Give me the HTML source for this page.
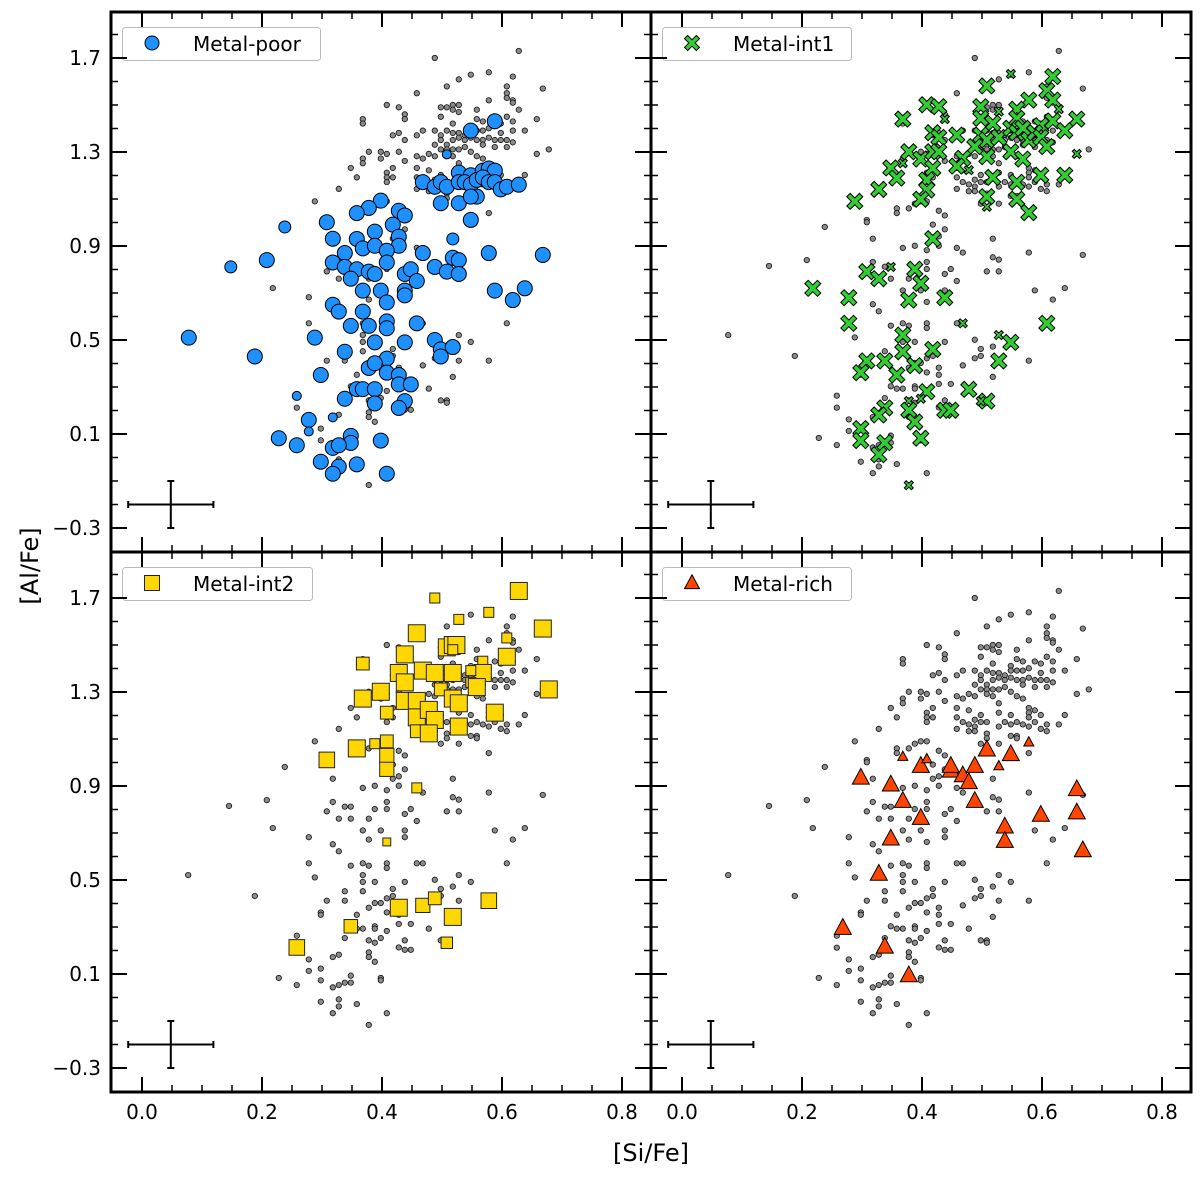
<!DOCTYPE html>
<html><head><meta charset="utf-8"><style>
html,body{margin:0;padding:0;background:#fff;}
svg{display:block;font-family:"DejaVu Sans","Liberation Sans",sans-serif;}
</style></head><body>
<svg id="chart" width="1200" height="1180" viewBox="0 0 1200 1180" xmlns="http://www.w3.org/2000/svg">
<rect x="0" y="0" width="1200" height="1180" fill="#fff"/>
<g id="marks"></g>
<g id="frames"></g>
<text x="0" y="0" transform="translate(38,566) rotate(-90)" text-anchor="middle" font-size="24">[Al/Fe]</text>
<text x="651" y="1161" text-anchor="middle" font-size="24">[Si/Fe]</text>
</svg>
<script>
// background sample (all stars) [SiFe, AlFe]
const greyPts=[[.628,1.730],[.488,1.700],[.548,1.629],[.578,1.639],[.618,1.621],[.528,1.609],[.508,1.579],[.608,1.579],[.668,1.570],[.458,1.550],[.608,1.550],[.608,1.530],[.618,1.520],[.578,1.520],[.618,1.510],[.408,1.500],[.428,1.490],[.498,1.490],[.508,1.490],[.518,1.500],[.528,1.500],[.518,1.480],[.528,1.470],[.558,1.480],[.628,1.480],[.438,1.460],[.438,1.440],[.498,1.450],[.518,1.421],[.558,1.440],[.568,1.430],[.588,1.430],[.608,1.450],[.618,1.430],[.658,1.440],[.368,1.440],[.368,1.421],[.488,1.391],[.498,1.371],[.508,1.391],[.518,1.381],[.528,1.381],[.538,1.371],[.548,1.411],[.548,1.391],[.558,1.391],[.568,1.391],[.578,1.401],[.598,1.421],[.598,1.381],[.618,1.391],[.638,1.391],[.428,1.381],[.418,1.371],[.458,1.371],[.468,1.391],[.438,1.351],[.488,1.331],[.498,1.351],[.508,1.331],[.518,1.351],[.528,1.361],[.538,1.351],[.548,1.361],[.558,1.351],[.568,1.351],[.578,1.361],[.588,1.351],[.598,1.351],[.608,1.351],[.618,1.341],[.568,1.331],[.588,1.321],[.608,1.321],[.498,1.311],[.508,1.311],[.518,1.311],[.528,1.311],[.538,1.321],[.548,1.301],[.378,1.301],[.398,1.301],[.408,1.292],[.428,1.301],[.438,1.262],[.368,1.272],[.368,1.252],[.398,1.272],[.458,1.282],[.468,1.272],[.478,1.292],[.488,1.282],[.508,1.292],[.518,1.282],[.558,1.282],[.568,1.272],[.658,1.292],[.678,1.311],[.348,1.232],[.358,1.192],[.418,1.232],[.408,1.212],[.408,1.192],[.408,1.172],[.418,1.192],[.458,1.232],[.458,1.192],[.478,1.222],[.498,1.202],[.528,1.212],[.528,1.252],[.548,1.202],[.578,1.232],[.578,1.212],[.588,1.222],[.598,1.202],[.578,1.192],[.638,1.202],[.468,1.172],[.478,1.162],[.488,1.182],[.488,1.153],[.498,1.172],[.508,1.172],[.528,1.153],[.538,1.172],[.548,1.162],[.558,1.172],[.568,1.162],[.578,1.153],[.588,1.172],[.608,1.162],[.598,1.143],[.608,1.133],[.628,1.162],[.458,1.143],[.478,1.133],[.488,1.133],[.508,1.123],[.508,1.103],[.328,1.143],[.288,1.090],[.388,1.080],[.398,1.090],[.408,1.090],[.378,1.060],[.358,1.060],[.358,1.040],[.308,1.011],[.308,1.001],[.428,1.050],[.438,1.030],[.498,1.080],[.528,1.080],[.548,1.113],[.558,1.113],[.558,1.103],[.578,1.040],[.238,0.981],[.318,0.931],[.418,0.991],[.428,0.941],[.418,0.931],[.438,0.971],[.388,0.901],[.408,0.882],[.428,0.901],[.458,0.892],[.468,0.872],[.518,0.931],[.518,0.852],[.528,0.842],[.208,0.840],[.218,0.721],[.318,0.832],[.308,0.792],[.338,0.812],[.348,0.812],[.328,0.761],[.348,0.761],[.368,0.892],[.378,0.761],[.388,0.802],[.408,0.832],[.408,0.802],[.438,0.781],[.448,0.802],[.458,0.751],[.508,0.792],[.528,0.792],[.578,0.872],[.668,0.862],[.278,0.682],[.318,0.652],[.328,0.622],[.368,0.711],[.378,0.672],[.398,0.711],[.408,0.662],[.438,0.711],[.438,0.682],[.588,0.711],[.618,0.672],[.638,0.721],[.278,0.571],[.288,0.511],[.348,0.561],[.368,0.571],[.378,0.561],[.408,0.571],[.408,0.551],[.458,0.571],[.468,0.571],[.368,0.521],[.368,0.492],[.388,0.492],[.438,0.492],[.488,0.501],[.498,0.462],[.518,0.472],[.528,0.521],[.548,0.492],[.608,0.571],[.188,0.432],[.308,0.412],[.338,0.452],[.338,0.412],[.368,0.452],[.378,0.382],[.388,0.402],[.398,0.402],[.408,0.422],[.418,0.432],[.418,0.462],[.468,0.392],[.488,0.422],[.498,0.432],[.528,0.412],[.578,0.412],[.298,0.362],[.298,0.352],[.358,0.352],[.408,0.362],[.428,0.382],[.428,0.352],[.518,0.343],[.348,0.303],[.358,0.293],[.368,0.293],[.388,0.303],[.388,0.293],[.408,0.283],[.428,0.313],[.448,0.313],[.478,0.293],[.258,0.263],[.258,0.212],[.338,0.253],[.378,0.243],[.388,0.233],[.398,0.253],[.438,0.243],[.428,0.213],[.438,0.203],[.448,0.203],[.498,0.243],[.508,0.243],[.508,0.233],[.278,0.162],[.278,0.113],[.318,0.172],[.328,0.182],[.378,0.192],[.378,0.172],[.388,0.152],[.228,0.083],[.258,0.053],[.298,0.123],[.298,0.073],[.318,0.043],[.328,0.053],[.338,0.063],[.348,0.063],[.348,0.093],[.398,0.083],[.398,0.073],[.298,-0.018],[.328,-0.008],[.328,-0.038],[.358,-0.028],[.318,-0.067],[.408,-0.067],[.378,-0.117],[.077,0.521],[.145,0.815]];
// Metal-poor [SiFe, AlFe, sizeClass]
const poorPts=[[.588,1.431,2],[.548,1.391,2],[.508,1.290,1],[.528,1.212,2],[.548,1.201,2],[.568,1.221,2],[.578,1.230,2],[.588,1.221,2],[.468,1.172,2],[.488,1.152,2],[.498,1.172,2],[.508,1.152,2],[.528,1.172,2],[.538,1.172,2],[.548,1.161,2],[.558,1.181,2],[.568,1.192,2],[.578,1.172,2],[.588,1.172,2],[.598,1.141,2],[.608,1.152,2],[.628,1.161,2],[.498,1.082,2],[.528,1.082,2],[.558,1.110,2],[.548,1.110,2],[.548,1.011,2],[.398,1.093,2],[.378,1.062,2],[.358,1.040,2],[.428,1.050,2],[.438,1.030,2],[.308,1.001,2],[.238,0.981,1.5],[.418,0.991,2],[.388,0.961,2],[.428,0.940,2],[.428,0.901,2],[.358,0.930,2],[.318,0.931,2],[.368,0.890,2],[.388,0.901,2],[.408,0.880,2],[.338,0.870,2],[.408,0.830,2],[.318,0.830,2],[.338,0.811,2],[.358,0.801,2],[.378,0.791,2],[.388,0.781,2],[.348,0.761,2],[.438,0.781,2],[.448,0.801,2],[.458,0.751,2],[.468,0.870,2],[.488,0.811,2],[.508,0.791,2],[.518,0.850,2],[.528,0.840,2],[.528,0.781,2],[.518,0.930,1.5],[.578,0.870,2],[.668,0.862,2],[.208,0.840,2],[.148,0.811,1.5],[.368,0.710,2],[.398,0.710,2],[.408,0.660,2],[.438,0.710,2],[.438,0.690,2],[.588,0.710,2],[.618,0.670,2],[.638,0.720,2],[.318,0.650,2],[.328,0.621,2],[.368,0.621,2],[.348,0.560,2],[.378,0.560,2],[.408,0.579,2],[.408,0.550,2],[.458,0.571,2],[.078,0.510,2],[.288,0.510,2],[.388,0.490,2],[.438,0.490,2],[.488,0.500,2],[.498,0.460,2],[.518,0.470,2],[.498,0.430,2],[.188,0.430,2],[.338,0.450,2],[.408,0.421,2],[.378,0.381,2],[.388,0.401,2],[.408,0.361,2],[.428,0.351,2],[.428,0.311,2],[.448,0.311,2],[.298,0.351,2],[.358,0.291,2],[.368,0.291,2],[.388,0.291,2],[.338,0.250,2],[.388,0.230,2],[.438,0.240,2],[.428,0.211,2],[.258,0.262,1],[.318,0.171,1],[.278,0.160,2],[.278,0.111,1],[.228,0.082,2],[.258,0.052,2],[.348,0.092,2],[.348,0.062,2],[.398,0.072,2],[.318,0.041,2],[.328,0.052,2],[.298,-0.018,2],[.328,-0.039,2],[.358,-0.029,2],[.318,-0.069,2],[.408,-0.069,2]];
// Metal-int1
const int1Pts=[[.548,1.632,1],[.618,1.621,2],[.508,1.581,2],[.608,1.561,2],[.618,1.521,2],[.578,1.521,2],[.628,1.482,1],[.408,1.501,2],[.428,1.493,2],[.498,1.493,2],[.498,1.443,2],[.518,1.422,2],[.528,1.472,1],[.558,1.482,2],[.558,1.443,2],[.368,1.440,2],[.438,1.440,1],[.658,1.440,2],[.618,1.432,2],[.598,1.412,2],[.638,1.391,2],[.418,1.382,2],[.428,1.362,2],[.458,1.372,2],[.498,1.372,2],[.508,1.351,2],[.528,1.362,2],[.548,1.401,2],[.558,1.382,2],[.568,1.401,2],[.578,1.351,2],[.588,1.382,2],[.598,1.362,2],[.608,1.323,2],[.548,1.301,2],[.508,1.280,2],[.488,1.323,2],[.468,1.273,2],[.458,1.240,2],[.378,1.301,2],[.398,1.270,2],[.418,1.301,2],[.428,1.301,2],[.658,1.292,1],[.568,1.270,2],[.348,1.232,2],[.368,1.252,1],[.358,1.189,2],[.418,1.231,2],[.408,1.181,2],[.408,1.138,2],[.398,1.099,2],[.328,1.141,2],[.288,1.090,2],[.478,1.223,1],[.518,1.192,2],[.558,1.171,2],[.598,1.201,2],[.638,1.201,2],[.508,1.110,2],[.508,1.067,1],[.558,1.099,2],[.578,1.042,2],[.418,0.931,2],[.218,0.720,2],[.278,0.680,2],[.278,0.571,2],[.308,0.791,2],[.328,0.761,2],[.348,0.811,1],[.388,0.801,2],[.398,0.741,2],[.378,0.670,2],[.438,0.680,2],[.468,0.571,1],[.528,0.521,1],[.548,0.490,2],[.608,0.571,2],[.368,0.521,2],[.368,0.450,2],[.418,0.460,2],[.308,0.411,2],[.298,0.361,2],[.338,0.411,2],[.358,0.351,2],[.388,0.391,2],[.528,0.411,2],[.478,0.290,2],[.408,0.280,2],[.398,0.250,1],[.378,0.240,1],[.508,0.240,2],[.498,0.240,1],[.338,0.211,2],[.328,0.181,2],[.378,0.201,2],[.388,0.151,2],[.438,0.201,2],[.448,0.201,2],[.298,0.123,2],[.298,0.072,2],[.338,0.063,2],[.398,0.082,2],[.328,0.012,2],[.378,-0.118,1]];
// Metal-int2
const int2Pts=[[.628,1.730,2],[.488,1.700,1],[.578,1.639,1],[.528,1.609,1],[.668,1.570,2],[.458,1.550,2],[.608,1.530,1],[.508,1.490,2],[.518,1.500,2],[.524,1.500,2],[.518,1.480,1],[.438,1.460,2],[.608,1.450,2],[.368,1.421,1.4],[.568,1.431,1],[.428,1.381,2],[.468,1.391,2],[.488,1.381,2],[.518,1.381,2],[.568,1.381,2],[.548,1.391,1],[.548,1.341,1],[.438,1.341,2],[.398,1.301,2],[.368,1.272,2],[.498,1.311,1.4],[.558,1.321,2],[.678,1.311,2],[.438,1.262,2],[.458,1.262,2],[.518,1.272,2],[.528,1.252,2],[.408,1.212,1.4],[.458,1.192,2],[.478,1.224,2],[.488,1.181,2],[.588,1.212,2],[.528,1.153,2],[.458,1.133,1.4],[.478,1.124,2],[.358,1.060,2],[.388,1.080,1],[.408,1.090,1.4],[.408,1.030,1.6],[.308,1.011,1.8],[.408,0.971,1.6],[.458,0.892,1],[.408,0.662,0.7],[.428,0.382,2],[.468,0.392,1.6],[.488,0.422,1.4],[.578,0.412,1.8],[.518,0.343,2],[.348,0.303,1.5],[.258,0.213,1.8],[.508,0.233,1.2]];
// Metal-rich
const richPts=[[.298,0.935,2],[.348,0.906,2],[.368,0.836,2],[.398,0.764,2],[.348,0.676,2],[.328,0.526,2],[.268,0.296,2],[.338,0.216,2],[.378,0.094,2],[.398,0.985,2],[.448,0.965,2],[.448,0.985,2],[.468,0.945,2],[.478,0.916,2],[.488,0.985,2],[.488,0.836,2],[.508,1.055,2],[.548,1.035,2],[.578,1.086,1],[.528,0.985,1],[.368,1.025,1],[.408,1.015,1],[.538,0.727,2],[.538,0.666,2],[.598,0.777,2],[.658,0.886,2],[.658,0.787,2],[.668,0.626,2]];
const xTickLabels=["0.0","0.2","0.4","0.6","0.8"];
const xTickValues=[0,0.2,0.4,0.6,0.8];
const yTickLabels=["1.7","1.3","0.9","0.5","0.1","\u22120.3"];
const yTickValues=[1.7,1.3,0.9,0.5,0.1,-0.3];
const legendLabels=["Metal-poor","Metal-int1","Metal-int2","Metal-rich"];
const errorBar=[0.048,-0.2,0.071,0.1];

const NS="http://www.w3.org/2000/svg";
const marks=document.getElementById('marks');
const frames=document.getElementById('frames');
function sx(c,x){return 142+c*540+x*600;}
function sy(r,y){return 58+r*540+(1.7-y)*235;}
function mk(tag,attrs,parent){const e=document.createElementNS(NS,tag);for(const k in attrs)e.setAttribute(k,attrs[k]);(parent||marks).appendChild(e);return e;}

const panels=[{c:0,r:0,pts:poorPts,kind:'circle',fill:'#1e90ff'},{c:1,r:0,pts:int1Pts,kind:'x',fill:'#32cd32'},{c:0,r:1,pts:int2Pts,kind:'square',fill:'#ffd700'},{c:1,r:1,pts:richPts,kind:'tri',fill:'#ff4500'}];

function drawMarker(kind,cx,cy,s,fill,g){
  let e;
  if(kind==='circle'){e=mk('circle',{cx:cx,cy:cy,r:s,fill:fill,stroke:'#000','stroke-width':1},g);}
  else if(kind==='square'){e=mk('rect',{x:cx-s,y:cy-s,width:2*s,height:2*s,fill:fill,stroke:'#222','stroke-width':1},g);}
  else if(kind==='tri'){e=mk('polygon',{points:(cx)+','+(cy-s*1.1)+' '+(cx+s)+','+(cy+s*0.75)+' '+(cx-s)+','+(cy+s*0.75),fill:fill,stroke:'#000','stroke-width':1},g);}
  else {const a=s,w=s*0.42;
    const p=[[-a,-a+w],[-a+w,-a],[0,-w],[a-w,-a],[a,-a+w],[w,0],[a,a-w],[a-w,a],[0,w],[-a+w,a],[-a,a-w],[-w,0]];
    e=mk('polygon',{points:p.map(q=>(cx+q[0])+','+(cy+q[1])).join(' '),fill:fill,stroke:'#000','stroke-width':1},g);}
  return e;
}
const sizeMap={circle:[0,4.5,7.5],x:[0,4.5,8],square:[0,5,8.5],tri:[0,5,8.5]};

panels.forEach((p,pi)=>{
  const g=mk('g',{});
  
  
  greyPts.forEach(d=>{
    const c=mk('circle',{cx:sx(p.c,d[0]),cy:sy(p.r,d[1]),r:2.7,fill:'#8a8a8a',stroke:'#111','stroke-width':0.8},g);
    
    
  });
  const sm=sizeMap[p.kind];
  p.pts.forEach(d=>{
    const s=d[2]>=2?sm[2]:sm[1]+(sm[2]-sm[1])*(d[2]-1);
    const e=drawMarker(p.kind,sx(p.c,d[0]),sy(p.r,d[1]),Math.max(2.5,s),p.fill,g);
    
    
  });
  // error bar
  const eg=mk('g',{stroke:'#000','stroke-width':2},g);
  
  
  const ex0=sx(p.c,errorBar[0]-errorBar[2]),ex1=sx(p.c,errorBar[0]+errorBar[2]),ecy=sy(p.r,errorBar[1]);
  const ecx=sx(p.c,errorBar[0]),ey0=sy(p.r,errorBar[1]+errorBar[3]),ey1=sy(p.r,errorBar[1]-errorBar[3]);
  mk('line',{x1:ex0,y1:ecy,x2:ex1,y2:ecy},eg);mk('line',{x1:ecx,y1:ey0,x2:ecx,y2:ey1},eg);
  mk('line',{x1:ex0,y1:ecy-3.5,x2:ex0,y2:ecy+3.5},eg);mk('line',{x1:ex1,y1:ecy-3.5,x2:ex1,y2:ecy+3.5},eg);
  mk('line',{x1:ecx-3.5,y1:ey0,x2:ecx+3.5,y2:ey0},eg);mk('line',{x1:ecx-3.5,y1:ey1,x2:ecx+3.5,y2:ey1},eg);
  // legend
  const L=111+p.c*540, T=12+p.r*540;
  const lg=mk('g',{},g);
  
  
  const lw=pi===0?198:(pi===2?190:189);
  mk('rect',{x:L+11.5,y:T+15.5,width:lw,height:33,rx:3,fill:'#fff',stroke:'#bbb','stroke-width':1},lg);
  drawMarker(p.kind,L+41,T+31,p.kind==='circle'?7:7.5,p.fill,lg);
  const t=mk('text',{x:L+82,y:T+39,'font-size':20,fill:'#000'},lg);t.textContent=legendLabels[pi];
  // ticks
  const tk=mk('g',{stroke:'#000'},frames);
  
  
  const R=L+540,B=T+540;
  for(let i=-1;i<=17;i++){const v=i*0.05;const X=sx(p.c,v);if(X<L+2||X>R-2)continue;
    const major=(i%4===0);const len=major?15:7;const w=major?2:1.5;
    mk('line',{x1:X,y1:B,x2:X,y2:B-len,'stroke-width':w},tk);mk('line',{x1:X,y1:T,x2:X,y2:T+len,'stroke-width':w},tk);}
  for(let i=-4;i<=19;i++){const v=i*0.1;const Y=sy(p.r,v);if(Y<T+2||Y>B-2)continue;
    const major=((i+3)%4===0);const len=major?16:7;const w=major?2:1.5;
    mk('line',{x1:L,y1:Y,x2:L+len,y2:Y,'stroke-width':w},tk);mk('line',{x1:R,y1:Y,x2:R-len,y2:Y,'stroke-width':w},tk);}
  mk('rect',{x:L,y:T,width:540,height:540,fill:'none',stroke:'#000','stroke-width':3},frames);
  if(p.c===0){yTickValues.forEach((v,i)=>{const t=mk('text',{x:L-10,y:sy(p.r,v)+7,'text-anchor':'end','font-size':20},frames);t.textContent=yTickLabels[i];
    
    });}
  if(p.r===1){xTickValues.forEach((v,i)=>{const t=mk('text',{x:sx(p.c,v),y:B+27,'text-anchor':'middle','font-size':20},frames);t.textContent=xTickLabels[i];
    
    });}
});
</script>
</body></html>
